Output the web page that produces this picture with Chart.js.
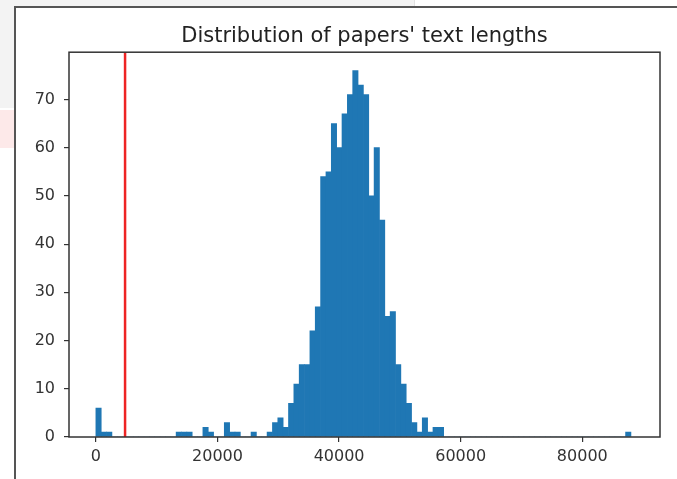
<!DOCTYPE html>
<html>
<head>
<meta charset="utf-8">
<title>Distribution of papers' text lengths</title>
<script src="https://cdn.jsdelivr.net/npm/chart.js@4/dist/chart.umd.min.js"></script>
<style>
  html, body { margin: 0; padding: 0; background: #fff; overflow: hidden; }
  body { width: 677px; height: 479px; position: relative; }
  .bg-top   { position: absolute; left: 0; top: 0; width: 414px; height: 6px; background: #f3f3f3; border-right: 1px solid #e2e2e2; }
  .bg-side  { position: absolute; left: 0; top: 0; width: 14px; height: 108px; background: #f3f3f3; }
  .bg-pink  { position: absolute; left: 0; top: 110px; width: 14px; height: 38px; background: #fde9e9; }
  .figure   { position: absolute; left: 14px; top: 6px; right: 0; bottom: 0;
              border-left: 2px solid #555; border-top: 2px solid #555; background: #fff; }
  #hist     { display: block; }
</style>
</head>
<body>
<div class="bg-top"></div>
<div class="bg-side"></div>
<div class="bg-pink"></div>
<div class="figure">
  <canvas id="hist" width="661" height="471"></canvas>
</div>

<script>
/* ─── Data ─────────────────────────────────────── */
const TITLE     = "Distribution of papers' text lengths";
const BIN_START = 0;
const BIN_WIDTH = 880;           // 100 bins
const counts = [
   6,  1,  1,  0,  0,  0,  0,  0,  0,  0,
   0,  0,  0,  0,  0,  1,  1,  1,  0,  0,
   2,  1,  0,  0,  3,  1,  1,  0,  0,  1,
   0,  0,  1,  3,  4,  2,  7, 11, 15, 15,
  22, 27, 54, 55, 65, 60, 67, 71, 76, 73,
  71, 50, 60, 45, 25, 26, 15, 11,  7,  3,
   1,  4,  1,  2,  2,  0,  0,  0,  0,  0,
   0,  0,  0,  0,  0,  0,  0,  0,  0,  0,
   0,  0,  0,  0,  0,  0,  0,  0,  0,  0,
   0,  0,  0,  0,  0,  0,  0,  0,  0,  1
];
const CUTOFF  = 4800;            // red threshold line
const X_TICKS = [0, 20000, 40000, 60000, 80000];
const Y_TICKS = [0, 10, 20, 30, 40, 50, 60, 70];
const X_MIN = -4420, X_MAX = 92780;
const Y_MAX = 79.8;

/* ─── Chart ────────────────────────────────────── */
Chart.defaults.font.family = "'DejaVu Sans', sans-serif";
Chart.defaults.color = '#333';

const bars = counts.map((c, i) => ({ x: BIN_START + (i + 0.5) * BIN_WIDTH, y: c }));

// plot frame on all four sides, like the matplotlib spines
const frame = {
  id: 'frame',
  afterDraw(chart) {
    const { ctx, chartArea: a } = chart;
    ctx.save();
    ctx.strokeStyle = '#333';
    ctx.lineWidth = 1.5;
    ctx.strokeRect(a.left, a.top, a.right - a.left, a.bottom - a.top);
    ctx.restore();
  }
};

const tickGrid = { drawOnChartArea: false, drawTicks: true, tickLength: 5, tickColor: '#333', lineWidth: 1.2 };

new Chart(document.getElementById('hist'), {
  type: 'bar',
  data: {
    datasets: [
      {
        type: 'line',
        data: [{ x: CUTOFF, y: 0 }, { x: CUTOFF, y: Y_MAX }],
        borderColor: 'rgb(238,36,36)',
        borderWidth: 2.5,
        pointRadius: 0,
        order: 0,
      },
      {
        data: bars,
        backgroundColor: '#1f77b4',
        borderWidth: 0,
        barPercentage: 1,
        categoryPercentage: 1,
        order: 1,
      }
    ]
  },
  options: {
    responsive: false,
    devicePixelRatio: 1,
    animation: false,
    layout: { padding: { left: 0, right: 17, top: 0, bottom: 0 } },
    plugins: {
      legend: { display: false },
      tooltip: { enabled: false },
      title: {
        display: true,
        fullSize: false,         // centre over the plot area
        text: TITLE,
        color: '#222',
        font: { size: 21, weight: 'normal' },
        padding: { top: 16, bottom: 3 }
      }
    },
    scales: {
      x: {
        type: 'linear',
        min: X_MIN, max: X_MAX,
        offset: false,
        grid: { ...tickGrid, offset: false },
        border: { display: false },
        afterBuildTicks: s => { s.ticks = X_TICKS.map(v => ({ value: v })); },
        afterFit: s => { s.height = 42; },
        ticks: { font: { size: 16 }, padding: 5, maxRotation: 0, callback: v => String(v) }
      },
      y: {
        min: 0, max: Y_MAX,
        grid: tickGrid,
        border: { display: false },
        afterBuildTicks: s => { s.ticks = Y_TICKS.map(v => ({ value: v })); },
        afterFit: s => { s.width = 53; },
        ticks: { font: { size: 16 }, padding: 9, callback: v => String(v) }
      }
    }
  },
  plugins: [frame]
});
</script>
</body>
</html>
